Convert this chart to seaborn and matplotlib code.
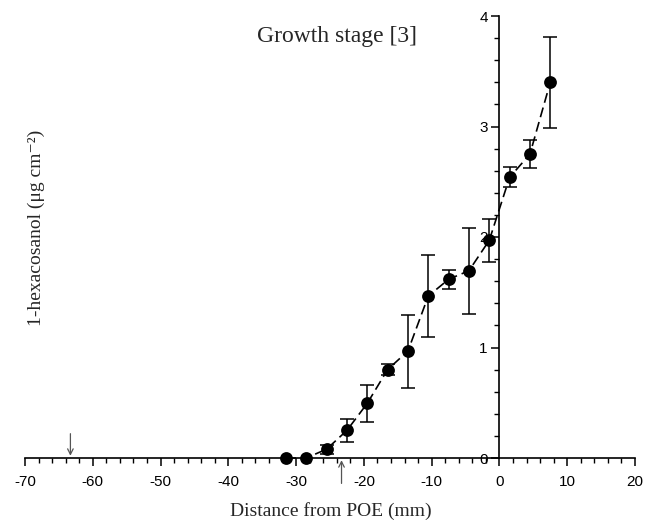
import numpy as np
import pandas as pd
import matplotlib
matplotlib.use("Agg")
import matplotlib.pyplot as plt
from matplotlib.ticker import MultipleLocator
import seaborn as sns

# Distance from the point of emergence (mm) and 1-hexacosanol amounts
distance = [-31.5, -28.5, -25.5, -22.5, -19.5, -16.5, -13.5, -10.5,
            -7.5, -4.5, -1.5, 1.5, 4.5, 7.5]
amount = [0.0, 0.0, 0.08, 0.25, 0.495, 0.80, 0.968, 1.466,
          1.617, 1.695, 1.97, 2.54, 2.75, 3.40]
error = [0.0, 0.0, 0.04, 0.105, 0.165, 0.05, 0.33, 0.37,
         0.085, 0.39, 0.195, 0.09, 0.13, 0.41]

x_ticks = [-70, -60, -50, -40, -30, -20, -10, 0, 10, 20]
y_ticks = [0, 1, 2, 3, 4]
arrow_down_x = -63.3
arrow_up_x = -23.3

df = pd.DataFrame({"distance": distance, "amount": amount, "error": error})

sns.set_style("ticks")
plt.rcParams["font.family"] = ["Liberation Sans", "DejaVu Sans"]
plt.rcParams["axes.unicode_minus"] = False

fig = plt.figure(figsize=(6.48, 5.29), dpi=100)
ax = fig.add_axes([25 / 648, 1 - 458 / 529, 610 / 648, 442 / 529])

sns.lineplot(data=df, x="distance", y="amount", ax=ax, color="black",
             linewidth=1.2, dashes=False, linestyle=(0, (6, 3)),
             clip_on=False, zorder=2)
bars = df[df["error"] > 0]
ax.errorbar(bars["distance"], bars["amount"], yerr=bars["error"], fmt="none",
            ecolor="black", elinewidth=1.1, capsize=5, capthick=1.1,
            clip_on=False, zorder=3)
sns.scatterplot(data=df, x="distance", y="amount", ax=ax, color="black",
                s=85, edgecolor="black", linewidth=0, clip_on=False, zorder=4)

ax.set_xlim(-70, 20)
ax.set_ylim(0, 4)
ax.set_xticks(x_ticks)
ax.set_yticks(y_ticks)
ax.xaxis.set_minor_locator(MultipleLocator(2))
ax.yaxis.set_minor_locator(MultipleLocator(0.2))

for side in ("top", "right"):
    ax.spines[side].set_visible(False)
ax.spines["left"].set_position(("data", 0))
ax.spines["bottom"].set_position(("data", 0))
for side in ("left", "bottom"):
    ax.spines[side].set_color("black")
    ax.spines[side].set_linewidth(1.2)

ax.tick_params(axis="both", which="major", direction="out", length=6,
               width=1.1, color="black", labelsize=11, labelcolor="black",
               bottom=True, left=True)
ax.tick_params(axis="both", which="minor", direction="out", length=3.5,
               width=1.0, color="black", bottom=True, left=True)
ax.tick_params(axis="x", which="major", pad=6)
ax.tick_params(axis="y", which="major", pad=2.5)

serif = ["Liberation Serif", "DejaVu Serif"]
ax.set_xlabel("")
ax.set_ylabel("")
fig.text(331 / 648, 1 - 511 / 529, "Distance from POE (mm)", ha="center",
         va="center", fontsize=14, family=serif)
fig.text(36 / 648, 1 - 228 / 529, "1-hexacosanol (\u03bcg cm\u207b\u00b2)",
         ha="center", va="center", rotation=90, fontsize=14, family=serif)
ax.text(-23.9, 3.81, "Growth stage [3]", ha="center", va="center",
        fontsize=17, family=serif)

# Arrows marking positions along the distance axis
ax.annotate("", xy=(arrow_down_x, 0.02), xytext=(arrow_down_x, 0.22),
            arrowprops=dict(arrowstyle="->", color="#555555", lw=0.9,
                            shrinkA=0, shrinkB=0), annotation_clip=False)
ax.annotate("", xy=(arrow_up_x, -0.02), xytext=(arrow_up_x, -0.23),
            arrowprops=dict(arrowstyle="->", color="#555555", lw=0.9,
                            shrinkA=0, shrinkB=0), annotation_clip=False)

fig.savefig("out.png", dpi=100, facecolor="white")
